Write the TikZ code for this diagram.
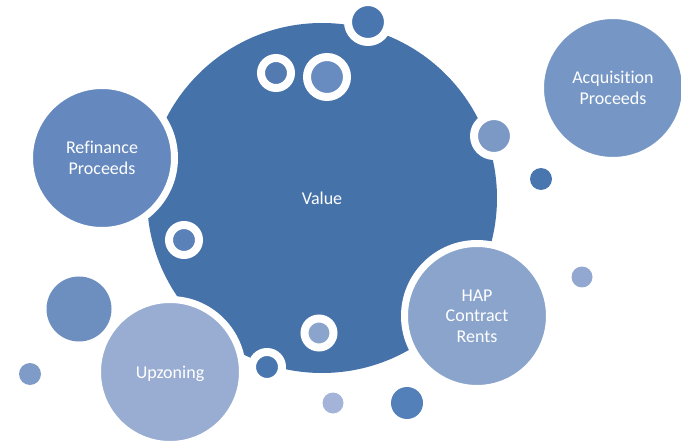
\documentclass[tikz,border=0pt]{standalone}
\usepackage{fontspec}
\setmainfont{Carlito}[Ligatures=NoCommon]

\definecolor{bMain}{RGB}{70,114,170}
\definecolor{bRefin}{RGB}{101,137,190}
\definecolor{bAcq}{RGB}{118,151,197}
\definecolor{bHap}{RGB}{138,164,204}
\definecolor{bUpzone}{RGB}{153,173,210}
\definecolor{bDark}{RGB}{74,118,176}
\definecolor{bDeep}{RGB}{84,122,178}
\definecolor{bSide}{RGB}{90,130,185}
\definecolor{bMid}{RGB}{104,140,192}
\definecolor{bSoft}{RGB}{109,143,192}
\definecolor{bGrey}{RGB}{124,152,196}
\definecolor{bFar}{RGB}{127,155,199}
\definecolor{bBlue}{RGB}{84,128,186}
\definecolor{bEdge}{RGB}{146,168,208}
\definecolor{bPale}{RGB}{164,180,217}

\begin{document}
\begin{tikzpicture}[
  x=1pt, y=-1pt,
  every node/.style={inner sep=0pt},
  big/.style={circle, draw=white, line width=7pt, minimum size=145pt,
    text=white, align=center, font=\fontsize{18}{20.5}\selectfont},
  ring/.style={circle, draw=white, line width=8pt},
  dot/.style={circle}]

  \useasboundingbox (0,0) rectangle (681,441);

  % --- the large centre bubble ---
  \node[circle, fill=bMain, minimum size=350pt, text=white,
    font=\fontsize{18}{21}\selectfont] (value) at (322,198) {Value};

  % --- four labelled bubbles, white rim cuts into the centre one ---
  \node[big, fill=bRefin]   (refin)  at (102,158) {Refinance\\Proceeds};
  \node[big, fill=bAcq]     (acq)    at (613,88)  {Acquisition\\Proceeds};
  \node[big, fill=bHap]     (hap)    at (477,316) {HAP\\Contract\\Rents};
  \node[big, fill=bUpzone, text depth=0pt] (upzone) at (170,372) {Upzoning};

  % --- small ringed bubbles sitting on the edge or inside ---
  \node[ring, fill=bDark, minimum size=40pt]  (rTop)    at (368,22)  {};
  \node[ring, fill=bDeep, minimum size=30pt]  (rLeft)   at (276,73)  {};
  \node[ring, fill=bMid, minimum size=40pt]   (rMid)    at (327,77)  {};
  \node[ring, fill=bGrey, minimum size=40pt]  (rRight)  at (494,136) {};
  \node[ring, fill=bSide, minimum size=30pt]  (rSide)   at (184,240) {};
  \node[ring, fill=bHap, minimum size=29pt]   (rLow)    at (319,333) {};
  \node[ring, fill=bDark, minimum size=30pt]  (rBottom) at (267,367) {};

  % --- loose dots around the outside ---
  \node[dot, fill=bSoft, minimum size=65pt]   (dBig)   at (79,309)  {};
  \node[dot, fill=bFar, minimum size=22pt]    (dFar)   at (30,374)  {};
  \node[dot, fill=bPale, minimum size=21pt]   (dPale)  at (333,403) {};
  \node[dot, fill=bBlue, minimum size=32pt]   (dBlue)  at (407,403) {};
  \node[dot, fill=bDark, minimum size=22pt]   (dRight) at (541,179) {};
  \node[dot, fill=bEdge, minimum size=21pt]   (dEdge)  at (582,277) {};

\end{tikzpicture}
\end{document}
